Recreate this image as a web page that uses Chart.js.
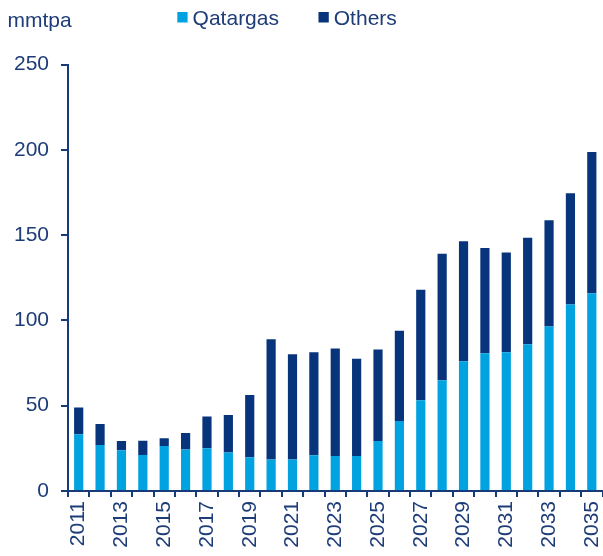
<!DOCTYPE html>
<html>
<head>
<meta charset="utf-8">
<script src="https://cdn.jsdelivr.net/npm/chart.js@4/dist/chart.umd.min.js"></script>
<style>
  html, body { margin: 0; padding: 0; background: #ffffff; }
  #wrap { width: 603px; height: 556px; position: relative; }
</style>
</head>
<body>
<div id="wrap"><canvas id="c" width="603" height="556"></canvas></div>
<script>
const years = ['2011','2012','2013','2014','2015','2016','2017','2018','2019','2020',
  '2021','2022','2023','2024','2025','2026','2027','2028','2029','2030',
  '2031','2032','2033','2034','2035'];
const qatargas = [33.2, 27.0, 23.9, 21.1, 26.4, 24.3, 25.0, 22.5, 19.8, 18.4,
  18.4, 20.9, 20.5, 20.5, 29.3, 41.0, 53.2, 64.9, 76.0, 80.7,
  81.3, 86.0, 96.4, 109.3, 115.9];
const others = [15.8, 12.3, 5.4, 8.4, 4.5, 9.7, 18.6, 22.0, 36.5, 70.5,
  61.7, 60.4, 63.0, 57.0, 53.7, 53.0, 64.8, 74.1, 70.4, 61.8,
  58.5, 62.5, 62.3, 65.2, 82.8];
const yTicks = [0, 50, 100, 150, 200, 250];
const unitLabel = 'mmtpa';
const seriesNames = ['Qatargas', 'Others'];

const TEXT = '#1d3c78';
const AXIS = '#173a78';
const LIGHT = '#00a3e0';
const DARK = '#07347a';
const FONT = '"Liberation Sans", Arial, Helvetica, sans-serif';

const overlay = {
  id: 'overlay',
  afterDraw(chart) {
    const ctx = chart.ctx;
    ctx.save();
    ctx.font = '21px ' + FONT;
    ctx.fillStyle = TEXT;
    ctx.textBaseline = 'alphabetic';
    ctx.textAlign = 'left';
    ctx.fillText(unitLabel, 7.5, 26.5);
    // legend
    let x = 177.3;
    chart.data.datasets.forEach(ds => {
      ctx.fillStyle = ds.backgroundColor;
      ctx.fillRect(x, 12, 10.3, 10.5);
      x += 10.3 + 5;
      ctx.fillStyle = TEXT;
      ctx.fillText(ds.label, x, 25);
      x += ctx.measureText(ds.label).width + 39.5;
    });
    ctx.restore();
  }
};

new Chart(document.getElementById('c'), {
  type: 'bar',
  data: {
    labels: years,
    datasets: [
      { label: seriesNames[0], data: qatargas, backgroundColor: LIGHT, borderWidth: 0,
        barPercentage: 0.43, categoryPercentage: 1.0 },
      { label: seriesNames[1], data: others, backgroundColor: DARK, borderWidth: 0,
        barPercentage: 0.43, categoryPercentage: 1.0 }
    ]
  },
  options: {
    responsive: false,
    animation: false,
    events: [],
    layout: { padding: { top: 64.5, right: 0.5, bottom: 0, left: 0 } },
    plugins: {
      legend: { display: false },
      tooltip: { enabled: false },
      title: { display: false }
    },
    scales: {
      x: {
        stacked: true,
        border: { display: true, color: AXIS, width: 2 },
        grid: { display: true, drawOnChartArea: false, drawTicks: true, tickLength: 6,
                color: AXIS, lineWidth: 2, offset: true },
        ticks: {
          autoSkip: false, maxRotation: 90, minRotation: 90, padding: 4,
          color: TEXT, font: { family: FONT, size: 21 },
          callback: function(value, index) { return index % 2 === 0 ? this.getLabelForValue(value) : ''; }
        },
        afterFit(scale) { scale.height = 65; scale.paddingLeft = 0; scale.paddingRight = 0; }
      },
      y: {
        stacked: true,
        min: 0, max: 250,
        afterBuildTicks(scale) { scale.ticks = yTicks.map(v => ({ value: v })); },
        border: { display: true, color: AXIS, width: 2 },
        grid: { display: true, drawOnChartArea: false, drawTicks: true, tickLength: 7,
                color: AXIS, lineWidth: 2 },
        ticks: { padding: 12, color: TEXT, font: { family: FONT, size: 21 } },
        afterFit(scale) { scale.width = 68; }
      }
    }
  },
  plugins: [overlay]
});
</script>
</body>
</html>
